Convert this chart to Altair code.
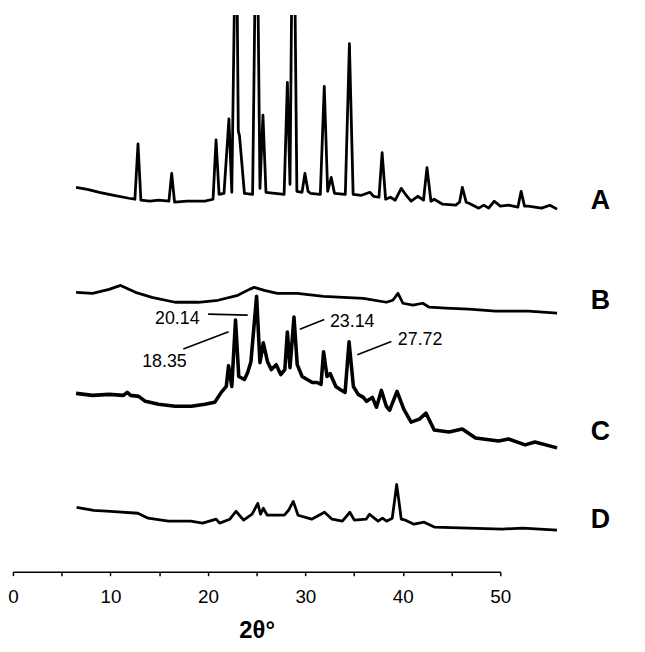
import altair as alt
import pandas as pd

# ---- data (2θ in degrees, intensity in arbitrary offset units) ----
A_theta = [5.06, 6.0, 7.0, 8.2, 9.45, 9.95, 10.21, 10.45, 11.2, 11.92, 12.78, 13.01, 13.25, 14.3, 15.77,
           16.45, 16.70, 16.95, 17.36, 17.77, 18.01, 18.37, 18.55, 18.65, 19.06, 19.74, 20.07, 20.35, 20.60,
           20.85, 21.6, 22.36, 22.63, 22.85, 23.12, 23.42, 23.85, 24.09, 24.35, 24.55, 25.37, 25.70, 25.98,
           26.28, 26.55, 27.45, 27.79, 28.1, 28.8, 29.49, 29.8, 30.25, 30.51, 30.8, 31.2, 31.6, 32.1, 32.45,
           32.92, 33.47, 33.95, 34.24, 34.57, 34.84, 35.54, 36.63, 36.95, 37.18, 37.5, 37.73, 38.55, 38.96,
           39.37, 39.84, 40.34, 41.02, 41.8, 42.07, 42.35, 42.67, 43.2, 43.77, 44.46, 45.06]
A_int = [388, 386, 383, 380, 377, 376, 432, 375, 374, 375, 374, 402, 373, 374, 374,
         376, 436, 381, 382, 457, 383, 700, 445, 440, 382, 381, 720, 387, 461,
         383, 382, 381, 494, 391, 760, 384, 383, 402, 384, 382, 381, 490, 384,
         398, 382, 381, 533, 381, 380, 383, 379, 378, 423, 376, 378, 375, 387, 381,
         374, 379, 375, 408, 374, 376, 371, 370, 373, 388, 373, 372, 367, 370,
         367, 374, 369, 370, 368, 384, 369, 369, 368, 367, 370, 366]

B_theta = [5.06, 6.43, 7.80, 8.76, 10.0, 11.37, 13.29, 15.21, 16.86, 18.51, 19.47, 19.88, 20.71, 21.80,
           23.45, 25.65, 28.95, 30.86, 31.4, 31.83, 32.24, 33.06, 33.89, 34.43, 35.81, 37.73, 39.93,
           42.67, 45.06]
B_int = [282, 281, 285, 289, 282, 277, 272, 272, 274, 279, 285, 287, 284, 281,
         281, 278, 276, 272, 274, 281, 271, 269, 271, 267, 266, 265, 263,
         263, 261]

C_theta = [5.06, 6.43, 7.80, 9.0, 9.31, 9.6, 10.27, 10.82, 11.92, 13.29, 14.66, 15.77, 16.59, 17.13,
           17.55, 17.74, 18.01, 18.32, 18.59, 19.06, 19.33, 19.60, 20.07, 20.35, 20.63, 20.98, 21.30,
           21.70, 22.08, 22.42, 22.63, 22.85, 23.18, 23.45, 23.86, 24.28, 24.70, 25.10, 25.43, 25.64,
           25.93, 26.19, 26.66, 27.02, 27.43, 27.76, 28.12, 28.52, 28.95, 29.22, 29.70, 30.04, 30.45,
           30.86, 31.14, 31.75, 32.31, 32.92, 33.61, 34.16, 34.84, 36.08, 37.18, 38.28, 40.20, 41.02,
           42.40, 43.22, 45.06]
C_int = [180, 178, 179, 178, 181, 178, 177, 172, 169, 167, 167, 169, 171, 181,
         187, 208, 187, 254, 197, 194, 201, 212, 278, 211, 231, 212, 204,
         209, 199, 204, 242, 206, 257, 209, 197, 194, 191, 191, 189, 222,
         197, 200, 187, 184, 181, 232, 187, 179, 176, 172, 176, 166, 183,
         167, 163, 182, 164, 151, 154, 160, 143, 141, 144, 135, 132, 134,
         128, 131, 125]

D_theta = [5.10, 6.52, 7.93, 10.20, 11.05, 12.75, 14.59, 15.58, 16.71, 17.0, 17.85, 18.36, 18.99, 19.70,
           20.17, 20.40, 20.63, 20.96, 22.38, 22.73, 23.12, 23.52, 24.65, 25.72, 26.35, 27.20, 27.83,
           28.20, 29.18, 29.46, 30.17, 30.54, 30.88, 31.35, 31.55, 31.72, 31.9, 32.1, 32.45, 33.16,
           34.0, 34.85, 37.68, 40.52, 42.22, 45.05]
D_int = [65, 62, 61, 59, 54, 51, 51, 49, 53, 49, 53, 61, 52, 58,
         69, 58, 64, 57, 57, 62, 71, 57, 53, 60, 53, 51, 60,
         52, 53, 58, 51, 54, 51, 54, 72, 88, 72, 53, 52, 48,
         50, 45, 44, 43, 44, 42]

series_names = ["A", "B", "C", "D"]
label_theta = [48.66, 48.66, 48.66, 48.66]
label_int = [374, 273, 141, 52]

ann_text = ["20.14", "18.35", "23.14", "27.72"]
ann_theta = [13.48, 12.41, 28.02, 33.67]
ann_int = [255.5, 211.5, 252, 233.5]
lead_theta1 = [16.04, 13.98, 23.67, 28.45]
lead_int1 = [260, 224.7, 244.7, 219]
lead_theta2 = [19.33, 17.74, 25.70, 31.28]
lead_int2 = [259, 242.3, 254.7, 232.3]

axis_ticks = [0, 5, 10, 15, 20, 25, 30, 35, 40, 45, 50]

# ---- build tables ----
rows = []
for name, th, it in [("A", A_theta, A_int), ("B", B_theta, B_int), ("C", C_theta, C_int), ("D", D_theta, D_int)]:
    for i, (t, v) in enumerate(zip(th, it)):
        rows.append({"series": name, "theta": t, "intensity": v, "order": i})
traces = pd.DataFrame(rows)
labels = pd.DataFrame({"series": series_names, "theta": label_theta, "intensity": label_int})
ann = pd.DataFrame({"text": ann_text, "theta": ann_theta, "intensity": ann_int,
                    "t1": lead_theta1, "i1": lead_int1, "t2": lead_theta2, "i2": lead_int2})
ticks = pd.DataFrame({"v": axis_ticks})

xs = alt.Scale(domain=[-0.19, 45.94], nice=False, zero=False)
ys = alt.Scale(domain=[0, 562], nice=False, zero=False)

base_thin = alt.Chart(traces[traces.series != "C"]).mark_line(
    color="black", strokeWidth=2.8, clip=True, strokeJoin="round"
).encode(
    x=alt.X("theta:Q", scale=xs, axis=None),
    y=alt.Y("intensity:Q", scale=ys, axis=None),
    detail="series:N",
    order="order:Q",
)
base_c = alt.Chart(traces[traces.series == "C"]).mark_line(
    color="black", strokeWidth=3.6, clip=True, strokeJoin="round"
).encode(
    x=alt.X("theta:Q", scale=xs, axis=None),
    y=alt.Y("intensity:Q", scale=ys, axis=None),
    order="order:Q",
)

series_labels = alt.Chart(labels).mark_text(
    font="Liberation Sans", fontSize=27, fontWeight="bold", color="black", align="center", baseline="middle"
).encode(
    x=alt.X("theta:Q", scale=xs, axis=None),
    y=alt.Y("intensity:Q", scale=ys, axis=None),
    text="series:N",
)

ann_text_layer = alt.Chart(ann).mark_text(
    font="Liberation Sans", fontSize=18, color="black", align="center", baseline="middle"
).encode(
    x=alt.X("theta:Q", scale=xs, axis=None),
    y=alt.Y("intensity:Q", scale=ys, axis=None),
    text="text:N",
)

leaders = alt.Chart(ann).mark_rule(color="black", strokeWidth=1.6).encode(
    x=alt.X("t1:Q", scale=xs, axis=None),
    x2="t2:Q",
    y=alt.Y("i1:Q", scale=ys, axis=None),
    y2="i2:Q",
)

axis_layer = alt.Chart(ticks).mark_point(opacity=0).encode(
    x=alt.X(
        "v:Q",
        scale=alt.Scale(domain=[0, 50], range=[0, 492], nice=False, zero=False),
        axis=alt.Axis(
            values=axis_ticks,
            labelExpr="datum.value % 10 === 0 ? datum.label : ''",
            labelFlush=False,
            labelOverlap=False,
            title="2θ°",
            titleFont="Liberation Sans",
            titleFontSize=24,
            titleFontWeight="bold",
            titleColor="black",
            titlePadding=12,
            labelFont="Liberation Sans",
            labelFontSize=19,
            labelColor="black",
            labelPadding=12,
            tickSize=4,
            tickWidth=1.5,
            tickColor="black",
            domainColor="black",
            domainWidth=1.5,
            grid=False,
        ),
    ),
    y=alt.value(562),
)

chart = alt.layer(
    base_thin, base_c, leaders, ann_text_layer, series_labels, axis_layer
).resolve_scale(x="independent").properties(
    width=560,
    height=562,
    autosize=alt.AutoSizeParams(type="none"),
    padding={"left": 5, "top": 4, "right": 70, "bottom": 76},
    background="white",
).configure_view(stroke=None)

chart.save("out.html", embed_options={"renderer": "svg", "actions": False})
